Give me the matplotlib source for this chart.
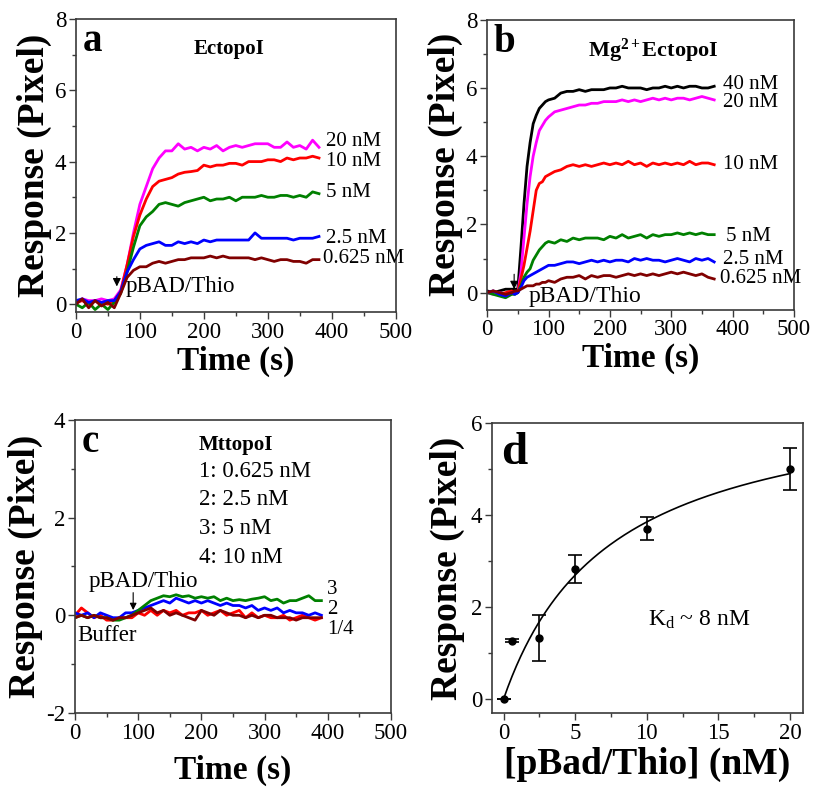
import numpy as np
import matplotlib
matplotlib.use("Agg")
import matplotlib.pyplot as plt
from matplotlib.ticker import MultipleLocator

plt.rcParams['font.family'] = ['Liberation Serif', 'DejaVu Serif']
plt.rcParams['mathtext.fontset'] = 'custom'
plt.rcParams['mathtext.rm'] = 'Liberation Serif'
plt.rcParams['mathtext.bf'] = 'Liberation Serif:bold'
plt.rcParams['mathtext.it'] = 'Liberation Serif:italic'
plt.rcParams['axes.unicode_minus'] = False

# ---------------- Panel a: EctopoI ----------------
t_a = [0, 10, 20, 30, 40, 50, 60, 70, 80, 90, 100, 110, 120, 130, 140, 150, 160, 170, 180, 190,
       200, 210, 220, 230, 240, 250, 260, 270, 280, 290, 300, 310, 320, 330, 340, 350, 360, 370, 380]
a_20 = [0.0, 0.15, 0.1, 0.1, 0.15, 0.1, 0.15, 0.4, 1.1, 2.0, 2.8, 3.3, 3.8, 4.1, 4.3, 4.3, 4.5, 4.35, 4.4, 4.3,
        4.4, 4.35, 4.45, 4.3, 4.4, 4.45, 4.4, 4.45, 4.5, 4.5, 4.5, 4.4, 4.4, 4.55, 4.4, 4.45, 4.35, 4.6, 4.4]
a_10 = [0.05, 0.1, 0.0, 0.1, 0.05, 0.0, 0.1, 0.35, 1.1, 1.9, 2.5, 2.95, 3.3, 3.45, 3.5, 3.55, 3.65, 3.7, 3.72, 3.75,
        3.9, 3.85, 3.9, 3.9, 3.95, 3.95, 3.9, 4.0, 4.0, 4.0, 4.05, 4.05, 4.0, 4.1, 4.05, 4.1, 4.1, 4.15, 4.1]
a_5 = [0.0, -0.1, 0.05, -0.15, 0.0, -0.15, 0.05, 0.3, 0.9, 1.6, 2.2, 2.45, 2.6, 2.8, 2.85, 2.8, 2.75, 2.85, 2.9, 2.95,
       3.0, 2.9, 2.95, 2.95, 3.0, 2.9, 3.0, 3.0, 3.0, 3.05, 3.0, 3.0, 3.05, 3.05, 3.0, 3.05, 3.0, 3.15, 3.1]
a_25 = [0.1, 0.15, 0.05, 0.1, 0.05, 0.1, 0.1, 0.35, 0.9, 1.25, 1.55, 1.65, 1.7, 1.75, 1.65, 1.65, 1.75, 1.7, 1.75, 1.7,
        1.8, 1.75, 1.8, 1.8, 1.8, 1.8, 1.8, 1.8, 2.0, 1.85, 1.85, 1.85, 1.85, 1.85, 1.8, 1.85, 1.85, 1.85, 1.9]
a_0625 = [0.0, 0.15, -0.1, 0.1, -0.05, 0.05, -0.1, 0.3, 0.75, 0.95, 1.05, 1.05, 1.15, 1.2, 1.15, 1.2, 1.25, 1.25, 1.3, 1.3,
          1.3, 1.35, 1.3, 1.35, 1.3, 1.3, 1.3, 1.3, 1.25, 1.3, 1.25, 1.2, 1.25, 1.25, 1.2, 1.2, 1.15, 1.25, 1.25]
a_series = [a_20, a_10, a_5, a_25, a_0625]
a_labels = ['20 nM', '10 nM', '5 nM', '2.5 nM', '0.625 nM']
a_label_x = [391, 391, 391, 391, 386]
a_label_y = [4.55, 4.0, 3.12, 1.85, 1.29]
a_colors = ['#FF00FF', '#FF0000', '#008000', '#0000FF', '#800000']

# ---------------- Panel b: Mg2+ EctopoI ----------------
t_b = [0, 10, 20, 30, 40, 45, 50, 55, 60, 65, 70, 75, 80, 85, 90, 95, 100, 110, 120, 130, 140, 150, 160, 170,
       180, 190, 200, 210, 220, 230, 240, 250, 260, 270, 280, 290, 300, 310, 320, 330, 340, 350, 360, 370]
b_40 = [0.05, 0.0, 0.05, 0.1, 0.1, 0.1, 0.1, 1.3, 2.6, 3.7, 4.4, 4.95, 5.2, 5.4, 5.5, 5.6, 5.65, 5.7, 5.85, 5.9, 5.9, 5.95,
        5.9, 5.95, 5.95, 5.95, 6.0, 6.0, 6.05, 6.0, 6.0, 6.0, 5.95, 6.0, 6.0, 6.05, 6.0, 6.05, 6.0, 6.05, 6.05, 6.0, 6.0, 6.05]
b_20 = [0.0, -0.05, 0.0, -0.05, 0.0, 0.0, 0.0, 0.6, 1.6, 2.6, 3.4, 4.0, 4.4, 4.75, 4.9, 5.05, 5.15, 5.3, 5.35, 5.4, 5.45, 5.5,
        5.5, 5.55, 5.55, 5.6, 5.6, 5.6, 5.65, 5.6, 5.65, 5.6, 5.65, 5.7, 5.65, 5.7, 5.65, 5.7, 5.7, 5.65, 5.7, 5.75, 5.7, 5.65]
b_10 = [0.0, 0.05, -0.05, 0.0, 0.05, 0.0, 0.0, 0.4, 0.8, 1.3, 1.8, 2.4, 3.0, 3.2, 3.25, 3.4, 3.45, 3.55, 3.6, 3.7, 3.75, 3.7,
        3.75, 3.7, 3.75, 3.8, 3.75, 3.8, 3.75, 3.85, 3.75, 3.8, 3.7, 3.8, 3.75, 3.8, 3.75, 3.8, 3.75, 3.85, 3.75, 3.8, 3.8, 3.75]
b_5 = [0.0, -0.05, -0.1, -0.15, -0.05, -0.05, 0.0, 0.2, 0.45, 0.6, 0.7, 0.95, 1.1, 1.25, 1.35, 1.45, 1.5, 1.45, 1.55, 1.5, 1.6, 1.55,
       1.6, 1.6, 1.6, 1.55, 1.65, 1.6, 1.7, 1.6, 1.65, 1.7, 1.6, 1.7, 1.65, 1.7, 1.7, 1.75, 1.7, 1.75, 1.7, 1.75, 1.7, 1.7]
b_25 = [0.0, 0.05, -0.05, -0.1, 0.0, -0.05, 0.0, 0.15, 0.35, 0.45, 0.5, 0.55, 0.6, 0.65, 0.7, 0.75, 0.8, 0.8, 0.85, 0.9, 0.9, 0.85,
        0.9, 0.95, 0.9, 0.95, 0.9, 0.95, 0.95, 0.9, 1.0, 0.95, 1.0, 0.95, 0.95, 0.9, 0.95, 1.0, 0.95, 0.9, 1.0, 0.95, 1.0, 0.9]
b_0625 = [0.0, 0.05, 0.0, -0.05, 0.0, 0.05, 0.05, 0.1, 0.15, 0.2, 0.2, 0.2, 0.25, 0.25, 0.3, 0.3, 0.35, 0.3, 0.4, 0.45, 0.45, 0.5,
          0.4, 0.5, 0.45, 0.5, 0.5, 0.45, 0.5, 0.55, 0.5, 0.55, 0.5, 0.55, 0.5, 0.55, 0.6, 0.55, 0.6, 0.55, 0.5, 0.55, 0.45, 0.4]
b_series = [b_40, b_20, b_10, b_5, b_25, b_0625]
b_labels = ['40 nM', '20 nM', '10 nM', '5 nM', '2.5 nM', '0.625 nM']
b_label_x = [384, 384, 384, 389, 384, 380]
b_label_y = [6.1, 5.57, 3.75, 1.64, 0.97, 0.41]
b_colors = ['#000000', '#FF00FF', '#FF0000', '#008000', '#0000FF', '#800000']

# ---------------- Panel c: MttopoI ----------------
t_c = [0, 10, 20, 30, 40, 50, 60, 70, 80, 90, 100, 110, 120, 130, 140, 150, 160, 170, 180, 190,
       200, 210, 220, 230, 240, 250, 260, 270, 280, 290, 300, 310, 320, 330, 340, 350, 360, 370, 380, 390]
c_3 = [-0.05, 0.0, -0.05, 0.0, -0.05, -0.05, -0.1, -0.1, -0.05, 0.0, 0.1, 0.2, 0.3, 0.35, 0.4, 0.38, 0.42, 0.38, 0.4, 0.35,
       0.38, 0.35, 0.38, 0.3, 0.35, 0.3, 0.32, 0.3, 0.33, 0.35, 0.38, 0.3, 0.33, 0.25, 0.3, 0.3, 0.35, 0.4, 0.3, 0.3]
c_2 = [0.05, 0.0, 0.05, -0.05, 0.05, 0.0, -0.05, -0.05, 0.05, 0.05, 0.1, 0.15, 0.2, 0.25, 0.3, 0.25, 0.35, 0.3, 0.25, 0.3,
       0.25, 0.3, 0.25, 0.2, 0.25, 0.2, 0.2, 0.15, 0.2, 0.1, 0.15, 0.1, 0.15, 0.05, 0.1, 0.05, 0.05, 0.0, 0.05, 0.0]
c_1 = [0.0, 0.15, 0.05, -0.05, 0.0, -0.1, -0.1, -0.05, -0.05, -0.05, 0.05, 0.0, 0.1, 0.0, 0.1, 0.05, 0.1, 0.0, 0.05, 0.05,
       0.1, 0.0, 0.05, 0.1, 0.0, 0.05, 0.1, -0.05, 0.05, -0.05, 0.0, -0.05, -0.05, 0.0, -0.1, -0.05, 0.0, -0.05, -0.1, -0.05]
c_4 = [-0.05, 0.0, -0.05, 0.0, -0.05, -0.05, -0.1, -0.05, -0.05, 0.0, 0.05, 0.1, 0.15, 0.05, 0.1, 0.0, 0.05, 0.0, -0.05, -0.1,
       0.1, 0.05, 0.0, 0.1, 0.05, 0.0, 0.0, -0.05, 0.0, -0.05, 0.0, 0.0, -0.05, -0.05, -0.05, -0.1, -0.05, -0.05, -0.05, -0.05]
c_series = [c_1, c_2, c_3, c_4]
c_colors = ['#FF0000', '#0000FF', '#008000', '#800000']
c_legend = ['1: 0.625 nM', '2: 2.5 nM', '3: 5 nM', '4: 10 nM']
c_end_labels = ['3', '2', '1/4']
c_end_y = [0.52, 0.12, -0.3]

# ---------------- Panel d: binding ----------------
d_conc = [0, 0.625, 2.5, 5, 10, 20]
d_resp = [0.0, 1.27, 1.33, 2.83, 3.7, 5.0]
d_err = [0.0, 0.03, 0.5, 0.3, 0.25, 0.45]
fit_bmax = 6.74
fit_kd = 7.5

fig = plt.figure(figsize=(8.16, 7.9), dpi=100)
ax_a = fig.add_axes([0.093, 0.605, 0.392, 0.371])
ax_b = fig.add_axes([0.597, 0.608, 0.376, 0.367])
ax_c = fig.add_axes([0.092, 0.0975, 0.387, 0.371])
ax_d = fig.add_axes([0.603, 0.0975, 0.381, 0.367])

SP = '#3a3a3a'
TICK_FS = 16.5
LAB_FS = 15

def style(ax):
    for s in ax.spines.values():
        s.set_color(SP)
        s.set_linewidth(1.2)
    ax.tick_params(which='both', direction='out', colors='black', labelsize=TICK_FS, pad=2)
    ax.tick_params(which='major', length=5, width=1.0, color=SP)
    ax.tick_params(which='minor', length=3, width=1.0, color=SP)

# Panel a
for ys, c in zip(a_series, a_colors):
    ax_a.plot(t_a, ys, color=c, lw=2.0)
for lab, x, y in zip(a_labels, a_label_x, a_label_y):
    ax_a.text(x, y, lab, fontsize=LAB_FS, va='center', ha='left')
ax_a.set_xlim(0, 500)
ax_a.set_ylim(-0.22, 8)
ax_a.xaxis.set_major_locator(MultipleLocator(100))
ax_a.xaxis.set_minor_locator(MultipleLocator(50))
ax_a.yaxis.set_major_locator(MultipleLocator(2))
ax_a.yaxis.set_minor_locator(MultipleLocator(1))
ax_a.text(0.02, 0.985, 'a', transform=ax_a.transAxes, fontsize=28, fontweight='bold', va='top')
ax_a.text(0.48, 0.93, 'EctopoI', transform=ax_a.transAxes, fontsize=15, fontweight='bold', va='top', ha='center')
ax_a.annotate('', xy=(64, 0.42), xytext=(64, 0.85),
              arrowprops=dict(arrowstyle='-|>', color='black', lw=0.8, mutation_scale=12))
ax_a.text(77, 0.5, 'pBAD/Thio', fontsize=16.5, va='center', ha='left')
ax_a.set_xlabel('Time (s)', fontsize=24, fontweight='bold', labelpad=2)
ax_a.set_ylabel('Response (Pixel)', fontsize=27, fontweight='bold', labelpad=2)
style(ax_a)

# Panel b
for ys, c in zip(b_series, b_colors):
    ax_b.plot(t_b, ys, color=c, lw=2.0)
for lab, x, y in zip(b_labels, b_label_x, b_label_y):
    ax_b.text(x, y, lab, fontsize=LAB_FS, va='center', ha='left')
ax_b.set_xlim(0, 500)
ax_b.set_ylim(-0.5, 8)
ax_b.xaxis.set_major_locator(MultipleLocator(100))
ax_b.xaxis.set_minor_locator(MultipleLocator(50))
ax_b.yaxis.set_major_locator(MultipleLocator(2))
ax_b.yaxis.set_minor_locator(MultipleLocator(1))
ax_b.text(0.02, 0.985, 'b', transform=ax_b.transAxes, fontsize=28, fontweight='bold', va='top')
ax_b.text(0.54, 0.94, r'Mg$^{\mathbf{2+}}$EctopoI', transform=ax_b.transAxes, fontsize=16,
          fontweight='bold', va='top', ha='center')
ax_b.annotate('', xy=(44, 0.02), xytext=(44, 0.62),
              arrowprops=dict(arrowstyle='-|>', color='black', lw=0.8, mutation_scale=12))
ax_b.text(67, -0.1, 'pBAD/Thio', fontsize=17, va='center', ha='left')
ax_b.set_xlabel('Time (s)', fontsize=24, fontweight='bold', labelpad=2)
ax_b.set_ylabel('Response (Pixel)', fontsize=27, fontweight='bold', labelpad=2)
style(ax_b)

# Panel c
for ys, c in zip(c_series, c_colors):
    ax_c.plot(t_c, ys, color=c, lw=2.0)
ax_c.set_xlim(0, 500)
ax_c.set_ylim(-2, 4)
ax_c.xaxis.set_major_locator(MultipleLocator(100))
ax_c.xaxis.set_minor_locator(MultipleLocator(50))
ax_c.yaxis.set_major_locator(MultipleLocator(2))
ax_c.yaxis.set_minor_locator(MultipleLocator(1))
ax_c.text(0.02, 0.985, 'c', transform=ax_c.transAxes, fontsize=28, fontweight='bold', va='top')
ax_c.text(0.51, 0.95, 'MttopoI', transform=ax_c.transAxes, fontsize=15, fontweight='bold', va='top', ha='center')
for i, lab in enumerate(c_legend):
    ax_c.text(196, 2.95 - 0.59 * i, lab, fontsize=16.5, va='center', ha='left')
ax_c.annotate('', xy=(92, 0.05), xytext=(92, 0.52),
              arrowprops=dict(arrowstyle='-|>', color='black', lw=0.8, mutation_scale=10))
ax_c.text(21, 0.7, 'pBAD/Thio', fontsize=16.5, va='center', ha='left')
ax_c.text(3, -0.42, 'Buffer', fontsize=16.5, va='center', ha='left')
for lab, y in zip(c_end_labels, c_end_y):
    ax_c.text(399, y, lab, fontsize=15, va='center', ha='left')
ax_c.set_xlabel('Time (s)', fontsize=24, fontweight='bold', labelpad=8)
ax_c.set_ylabel('Response (Pixel)', fontsize=27, fontweight='bold', labelpad=2)
style(ax_c)

# Panel d
xf = np.linspace(0, 20, 200)
ax_d.plot(xf, fit_bmax * xf / (fit_kd + xf), color='black', lw=1.2)
ax_d.errorbar(d_conc, d_resp, yerr=d_err, fmt='o', color='black', ms=5, capsize=5,
              elinewidth=1.2, capthick=1.2)
ax_d.set_xlim(-0.8, 20.9)
ax_d.set_ylim(-0.3, 6)
ax_d.xaxis.set_major_locator(MultipleLocator(5))
ax_d.xaxis.set_minor_locator(MultipleLocator(2.5))
ax_d.yaxis.set_major_locator(MultipleLocator(2))
ax_d.yaxis.set_minor_locator(MultipleLocator(1))
ax_d.text(0.03, 0.97, 'd', transform=ax_d.transAxes, fontsize=34, fontweight='bold', va='top')
ax_d.text(10.1, 1.72, r'K$_\mathrm{d}$ ~ 8 nM', fontsize=17, va='center', ha='left')
ax_d.set_xlabel('[pBad/Thio] (nM)', fontsize=27, fontweight='bold', labelpad=2)
ax_d.set_ylabel('Response (Pixel)', fontsize=27, fontweight='bold', labelpad=4)
style(ax_d)

fig.savefig('out.png', dpi=100)
